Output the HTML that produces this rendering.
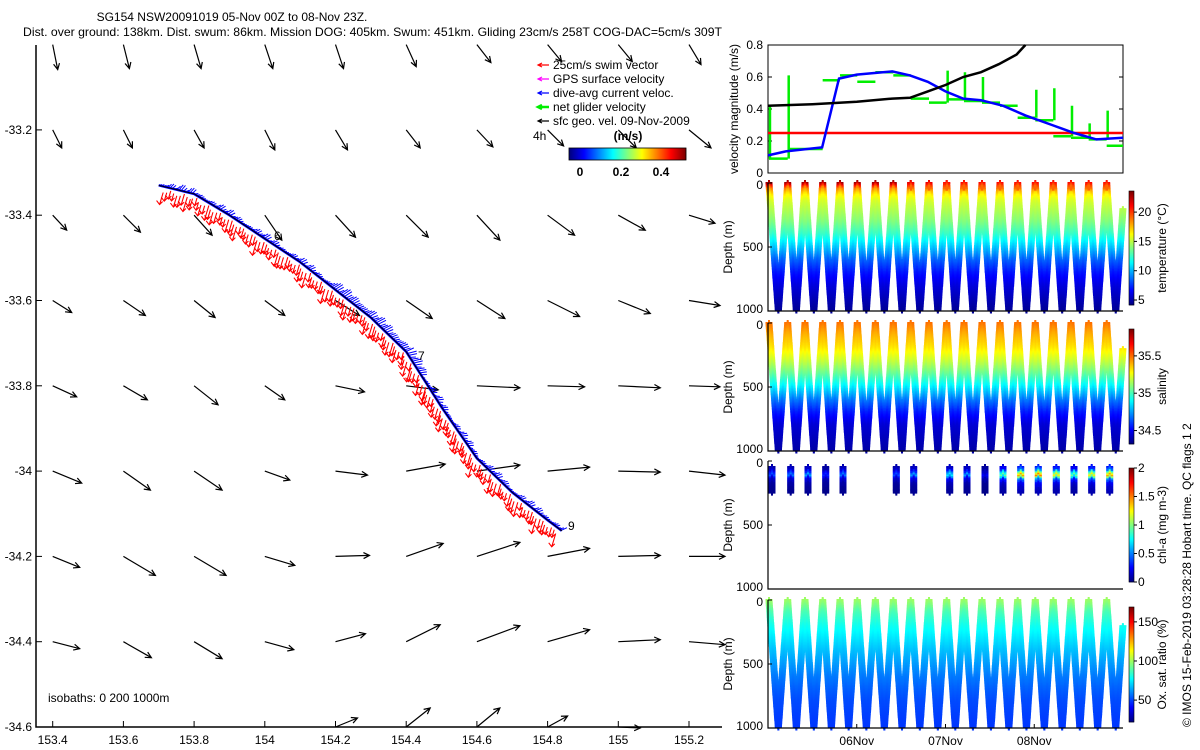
<!DOCTYPE html>
<html><head><meta charset="utf-8"><style>
html,body{margin:0;padding:0;background:#fff;width:1200px;height:750px;overflow:hidden}
svg text{font-family:"Liberation Sans",sans-serif;font-size:12px;fill:#000}
</style></head><body>
<svg id="s" width="1200" height="750" xmlns="http://www.w3.org/2000/svg">
<rect width="1200" height="750" fill="#fff"/>
<text x="232" y="21" text-anchor="middle">SG154 NSW20091019 05-Nov 00Z to 08-Nov 23Z.</text>
<text x="23" y="36" textLength="699" lengthAdjust="spacingAndGlyphs">Dist. over ground: 138km. Dist. swum: 86km. Mission DOG: 405km. Swum: 451km. Gliding 23cm/s 258T COG-DAC=5cm/s 309T</text>
<g id="map"></g>
<g id="vel"></g>
<g id="prof"></g>
<text transform="translate(1191,727) rotate(-90)">© IMOS 15-Feb-2019 03:28:28 Hobart time. QC flags 1  2</text>
</svg>
<script>
// ---------- DATA ----------
const mapLonTicks=[153.4,153.6,153.8,154,154.2,154.4,154.6,154.8,155,155.2];
const mapLatTicks=[-33.2,-33.4,-33.6,-33.8,-34,-34.2,-34.4,-34.6];
const gridLons=[153.4,153.6,153.8,154.0,154.2,154.4,154.6,154.8,155.0,155.2];
const gridLats=[-33.0,-33.2,-33.4,-33.6,-33.8,-34.0,-34.2,-34.4,-34.6];
const geoU=[
[5,6,7,8,8,10,14,14,14,12],
[9,9,10,10,12,14,16,16,18,22],
[14,17,18,17,20,22,23,27,27,26],
[19,22,21,20,24,26,28,32,32,31],
[24,24,24,20,29,32,43,37,42,31],
[29,27,28,25,32,39,43,42,42,36],
[27,32,32,30,34,37,43,42,42,36],
[27,28,28,29,30,34,43,42,42,36],
[null,null,null,null,22,24,23,20,22,null]];
const geoV=[
[-25,-24,-24,-24,-24,-22,-18,-17,-17,-20],
[-18,-18,-18,-20,-20,-18,-17,-16,-18,-18],
[-15,-17,-20,-25,-22,-22,-25,-20,-15,-8],
[-12,-15,-17,-15,-15,-18,-18,-16,-13,-5],
[-11,-14,-19,-14,-6,-4,-2,-1,-2,-1],
[-12,-19,-19,-9,-4,7,6,4,-1,-4],
[-11,-19,-19,-9,1,13,14,8,1,0],
[-7,-16,-17,-8,8,17,16,12,2,-3],
[null,null,null,null,9,19,19,11,-1,null]];
const trackLon=[153.70,153.80,153.90,154.00,154.10,154.20,154.30,154.40,154.50,154.60,154.70,154.80,154.84];
const trackLat=[-33.33,-33.35,-33.40,-33.455,-33.51,-33.575,-33.64,-33.72,-33.85,-33.97,-34.05,-34.115,-34.14];

const velTicks=[0,0.2,0.4,0.6,0.8];
const timeTickLabels=["06Nov","07Nov","08Nov"];
const timeTicks=[1,2,3];
const diveT=[0.011,0.222,0.417,0.616,0.811,1.006,1.21,1.412,1.608,1.814,2.013,2.208,2.411,2.614,2.813,3.012,3.215,3.414,3.613,3.816,4.02];
const netGlider=[0.09,0.15,0.15,0.58,0.61,0.57,0.63,0.61,0.465,0.44,0.46,0.45,0.44,0.42,0.345,0.33,0.23,0.22,0.21,0.17];
const netSpike=[0.42,0.61,0,0,0,0,0,0,0,0,0.64,0.63,0.6,0,0,0.52,0.53,0.42,0.31,0.39];
const dacT=[0,0.2,0.61,0.8,1.0,1.2,1.4,1.6,1.8,2.0,2.2,2.4,2.65,2.9,3.2,3.45,3.7,4.0];
const dacV=[0.11,0.135,0.16,0.59,0.615,0.625,0.635,0.61,0.57,0.51,0.465,0.455,0.42,0.36,0.3,0.25,0.21,0.22];
const sfcT=[0,0.5,1.0,1.4,1.6,1.8,2.0,2.2,2.4,2.6,2.8,2.9];
const sfcV=[0.42,0.43,0.445,0.465,0.47,0.51,0.55,0.6,0.63,0.68,0.74,0.8];
const swimSpeed=0.25;

const profDepth=[0,30,60,100,150,200,300,400,500,600,700,800,1000];
const tempVals=[21,19.5,18,16.5,15.5,15,14,12.5,10.5,8.5,7,6,4.6];
const salVals=[35.5,35.47,35.44,35.4,35.36,35.32,35.2,35.05,34.88,34.7,34.55,34.45,34.38];
const oxVals=[100,97,93,88,84,80,74,68,63,58,54,51,48];
const surfTemp=[23,23,23,23,23,23,23,23,21.5,21.5,21,21,21,21,21,21,21,21,21,21];
const chlDives=[0,1,2,3,4,7,8,10,11,12,13,14,15,16,17,18,19];
const chlPeak=[0.5,0.6,0.7,0.4,0.6,0.5,0.7,0.9,0.7,0.3,1.2,1.8,1.9,1.6,1.2,1.6,1.8];
const chlDepth=[0,30,50,70,90,120,160,200];
const chlShape=[0.15,0.3,0.6,0.8,0.35,0.15,0.08,0.05];

// ---------- HELPERS ----------
const NS="http://www.w3.org/2000/svg";
function mk(parent,tag,attrs){const e=document.createElementNS(NS,tag);for(const k in attrs)e.setAttribute(k,attrs[k]);parent.appendChild(e);return e;}
function txt(parent,x,y,s,anchor,extra){const t=mk(parent,'text',Object.assign({x:x,y:y,'text-anchor':anchor||'start'},extra||{}));t.textContent=s;return t;}
function jet(v){v=Math.max(0,Math.min(1,v));const c=x=>Math.round(255*Math.max(0,Math.min(1,x)));return `rgb(${c(1.5-Math.abs(4*v-3))},${c(1.5-Math.abs(4*v-2))},${c(1.5-Math.abs(4*v-1))})`;}
function interp(xs,ys,x){if(x<=xs[0])return ys[0];for(let i=1;i<xs.length;i++){if(x<=xs[i]){const f=(x-xs[i-1])/(xs[i]-xs[i-1]);return ys[i-1]+f*(ys[i]-ys[i-1]);}}return ys[ys.length-1];}

// ---------- MAP ----------
const map=document.getElementById('map');
const mx=lon=>52.7+(lon-153.4)*353.5;
const my=lat=>727-(lat+34.6)*426.5;
const ax=mk(map,'path',{d:'M36,45 V727 H722',stroke:'#000','stroke-width':1.5,fill:'none'});

mapLonTicks.forEach(l=>{
  mk(map,'line',{x1:mx(l),x2:mx(l),y1:727,y2:721,stroke:'#000'});
  const t=txt(map,mx(l),744,String(l),'middle');
  
});
mapLatTicks.forEach(l=>{
  mk(map,'line',{x1:36,x2:42,y1:my(l),y2:my(l),stroke:'#000'});
  const t=txt(map,32,my(l)+4,String(l),'end');
  
});
function arrow(g,x0,y0,dx,dy,col,w,hs){
  const L=Math.hypot(dx,dy)||1,ux=dx/L,uy=dy/L,x1=x0+dx,y1=y0+dy;
  const p=`M${x0},${y0}L${x1},${y1}M${x1-hs*ux+hs*0.5*uy},${y1-hs*uy-hs*0.5*ux}L${x1},${y1}L${x1-hs*ux-hs*0.5*uy},${y1-hs*uy+hs*0.5*ux}`;
  return mk(g,'path',{d:p,stroke:col,'stroke-width':w,fill:'none'});
}
const geoG=mk(map,'g',{});

gridLats.forEach((la,r)=>gridLons.forEach((lo,c)=>{
  const u=geoU[r][c],v=geoV[r][c]; if(u===null)return;
  const a=arrow(geoG,mx(lo),my(la),u,-v,'#000',1.2,6);
  
  
}));
// track
const trG=mk(map,'g',{});

const tp=trackLon.map((l,i)=>[mx(l),my(trackLat[i])]);
let cum=[0];for(let i=1;i<tp.length;i++)cum.push(cum[i-1]+Math.hypot(tp[i][0]-tp[i-1][0],tp[i][1]-tp[i-1][1]));
const total=cum[cum.length-1];
function at(s){for(let i=1;i<tp.length;i++){if(s<=cum[i]){const f=(s-cum[i-1])/(cum[i]-cum[i-1]);const dx=tp[i][0]-tp[i-1][0],dy=tp[i][1]-tp[i-1][1],L=Math.hypot(dx,dy);return [tp[i-1][0]+f*dx,tp[i-1][1]+f*dy,dx/L,dy/L];}}const n=tp.length-1;return [tp[n][0],tp[n][1],1,0];}
let bd='';for(let s=0;s<=total;s+=2.3){const [x,y,tx,ty]=at(s);const k=Math.abs(Math.sin(s*1.3)*Math.cos(s*0.29))*5+1.5+(s>200&&s<330?3:0);bd+=`M${x},${y}l${ty*k+tx*3},${-tx*k+ty*3}`;}
mk(trG,'path',{d:bd,stroke:'#0000ff','stroke-width':1,fill:'none'});
let rd='';for(let s=6;s<=total;s+=3.5){const [x,y,tx,ty]=at(s);const k=7+8*Math.abs(Math.sin(s*0.37)*Math.cos(s*0.11));const off=2+4*Math.abs(Math.sin(s*0.23));const sx=x-ty*off,sy=y+tx*off;const ex=sx-k*0.3, ey=sy+k; rd+=`M${sx},${sy}L${ex},${ey}M${ex-3},${ey-4}L${ex},${ey}L${ex+3},${ey-3}`;}
mk(trG,'path',{d:rd,stroke:'#ff0000','stroke-width':1.1,fill:'none'});
mk(trG,'polyline',{points:tp.map(p=>p.join(',')).join(' '),stroke:'#0000ff','stroke-width':2.5,fill:'none'});
mk(trG,'polyline',{points:tp.map(p=>p.join(',')).join(' '),stroke:'#000','stroke-width':1,fill:'none'});
[['6',274,240],['7',418,360],['9',568,530]].forEach(a=>{const t=txt(map,a[1],a[2],a[0]);});
const iso=txt(map,48,702,'isobaths: 0   200  1000m');
// legend
const lg=mk(map,'g',{});

[['25cm/s swim vector','#ff0000'],['GPS surface velocity','#ff00ff'],['dive-avg current veloc.','#0000ff'],['net glider velocity','#00ee00'],['sfc geo. vel. 09-Nov-2009','#000']].forEach((e,i)=>{
  const y=65+i*14;
  const a=arrow(lg,549,y,-11,0,e[1],i==3?2.5:1.2,4);
  
  const t=txt(lg,553,y+4,e[0]);
});
txt(lg,533,140,'4h');
txt(lg,628,140,'(m/s)','middle',{'font-weight':'bold'});
for(let i=0;i<117;i++){mk(lg,'rect',{x:569+i,y:148,width:1.2,height:12,fill:jet(i/116)});}
mk(lg,'rect',{x:569,y:148,width:117,height:12,fill:'none',stroke:'#000','stroke-width':0.8});
[[0,580],[0.2,621],[0.4,661]].forEach(a=>txt(lg,a[1],176,String(a[0]),'middle',{'font-weight':'bold'}));

// ---------- VELOCITY PANEL ----------
const vel=document.getElementById('vel');
const X0=768,X1=1123;
const tx=t=>X0+(t/4)*(X1-X0);
const vy=v=>173-v*160;
mk(vel,'rect',{x:X0,y:45,width:X1-X0,height:128,fill:'none',stroke:'#000'});
velTicks.forEach(v=>{mk(vel,'line',{x1:X0,x2:X0+4,y1:vy(v),y2:vy(v),stroke:'#000'});mk(vel,'line',{x1:X1,x2:X1-4,y1:vy(v),y2:vy(v),stroke:'#000'});
  const t=txt(vel,763,vy(v)+4,String(v),'end');});
const vl=txt(vel,0,0,'velocity magnitude (m/s)','middle',{transform:`translate(738,109) rotate(-90)`});

let gd='';
netGlider.forEach((v,i)=>{const a=tx(diveT[i]),b=tx(Math.min(diveT[i+1],4));gd+=`M${a},${vy(v)}H${b}`;if(netSpike[i]>0){gd+=`M${a+1},${vy(i>0?netGlider[i-1]:v)}V${vy(netSpike[i])}`;}});
const gp=mk(vel,'path',{d:gd,stroke:'#00ee00','stroke-width':2.5,fill:'none'});

const rl=mk(vel,'line',{x1:X0,x2:X1,y1:vy(swimSpeed),y2:vy(swimSpeed),stroke:'#ff0000','stroke-width':2.5});

const bl=mk(vel,'polyline',{points:dacT.map((t,i)=>tx(t)+','+vy(dacV[i])).join(' '),stroke:'#0000ff','stroke-width':2.5,fill:'none'});

const kl=mk(vel,'polyline',{points:sfcT.map((t,i)=>tx(t)+','+vy(sfcV[i])).join(' '),stroke:'#000','stroke-width':2.5,fill:'none'});


// ---------- PROFILE PANELS ----------
const prof=document.getElementById('prof');
const panels=[
 {name:'temperature',top:183,label:'temperature (°C)',cb:[191,305],range:[4.15,23.6],ticks:[5,10,15,20]},
 {name:'salinity',top:323,label:'salinity',cb:[329,444],range:[34.32,35.86],ticks:[34.5,35,35.5]},
 {name:'chl-a',top:461,label:'chl-a (mg m-3)',cb:[468,582],range:[0,2],ticks:[0,0.5,1,1.5,2]},
 {name:'oxygen',top:600,label:'Ox. sat. ratio (%)',cb:[607,722],range:[22,169],ticks:[50,100,150]}];
panels.forEach((P,pi)=>{
  const g=mk(prof,'g',{});
  
  const dy=d=>P.top+d*0.128;
  const pts=[];
  if(pi!==2){
    for(let i=0;i<20;i++){
      const t0=diveT[i],t1=diveT[i+1],tm=(t0+t1)/2;
      for(let d=0;d<=1000;d+=12){
        [[t0+(d/1000)*(tm-t0),d],[t1-(d/1000)*(t1-tm),d]].forEach(p=>{
          if(p[0]>4)return;
          let v;
          if(pi===0)v=interp(profDepth,tempVals,d)+(d<40?(surfTemp[i]-21)*(1-d/40):0);
          else if(pi===1)v=interp(profDepth,salVals,d);
          else v=interp(profDepth,oxVals,d);
          pts.push([tx(p[0]),dy(p[1]),v]);
        });
      }
    }
  } else {
    chlDives.forEach((di,k)=>{
      for(let d=0;d<=200;d+=10){
        const v=interp(chlDepth,chlShape,d)*chlPeak[k];
        pts.push([tx(diveT[di])+3,dy(d)+6,v]);
      }
    });
  }
  const byCol={};
  pts.forEach(p=>{const c=jet((p[2]-P.range[0])/(P.range[1]-P.range[0]));(byCol[c]=byCol[c]||[]).push(`M${(p[0]-3.5).toFixed(1)},${p[1].toFixed(1)}h7M${p[0].toFixed(1)},${(p[1]-3).toFixed(1)}v6`);});
  const dots=mk(g,'g',{});
  
  for(const c in byCol)mk(dots,'path',{d:byCol[c].join(''),stroke:c,'stroke-width':2,fill:'none'});
  mk(g,'path',{d:`M${X0},${P.top}V${P.top+128}H${X1}`,stroke:'#000',fill:'none','stroke-width':1.2});
  [0,500,1000].forEach(d=>{mk(g,'line',{x1:X0,x2:X0+4,y1:dy(d),y2:dy(d),stroke:'#000'});
    const t=txt(g,763,dy(d)+(d===0?6:d===1000?2:4),String(d),'end');});
  const yl=txt(g,0,0,'Depth (m)','middle',{transform:`translate(732,${P.top+64}) rotate(-90)`});
  
  const cb=mk(g,'g',{});
  
  const h=P.cb[1]-P.cb[0];
  for(let i=0;i<h;i++)mk(cb,'rect',{x:1129,y:P.cb[1]-i-1,width:5,height:1.3,fill:jet(i/(h-1))});
  mk(cb,'rect',{x:1129,y:P.cb[0],width:5,height:h,fill:'none',stroke:'#000','stroke-width':0.6});
  P.ticks.forEach(v=>{const y=P.cb[1]-(v-P.range[0])/(P.range[1]-P.range[0])*h;mk(cb,'line',{x1:1134,x2:1137,y1:y,y2:y,stroke:'#000'});txt(cb,1138,y+4,String(v));});
  const cl=txt(g,0,0,P.label,'middle',{transform:`translate(1166,${(P.cb[0]+P.cb[1])/2}) rotate(-90)`});
  
});
timeTicks.forEach((t,i)=>{mk(prof,'line',{x1:tx(t),x2:tx(t),y1:728,y2:724,stroke:'#000'});
  const l=txt(prof,tx(t),745,timeTickLabels[i],'middle');});
</script>
</body></html>
